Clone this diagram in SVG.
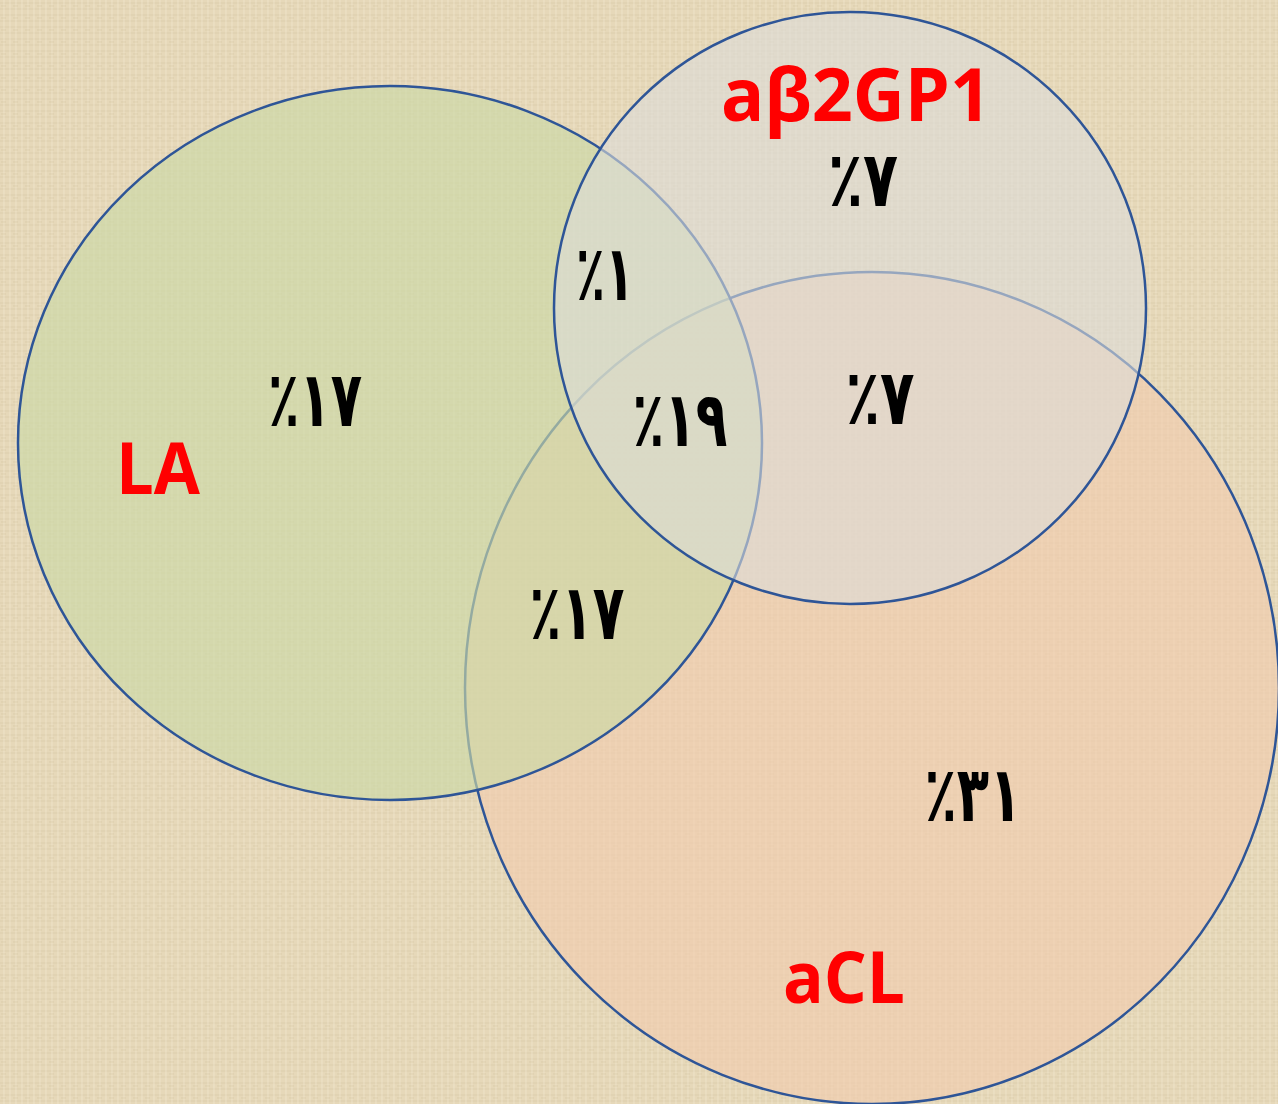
<svg xmlns="http://www.w3.org/2000/svg" width="1278" height="1104" viewBox="0 0 1278 1104">
  <defs>
    <!-- linen-like woven background -->
    <pattern id="linen" width="12" height="12" patternUnits="userSpaceOnUse">
      <rect width="12" height="12" fill="#e6d8b9"/>
      <path d="M0 3h12M0 9h12" stroke="#d3c4a2" stroke-width="1" opacity="0.55"/>
      <path d="M4 0v12M10 0v12" stroke="#f2e8d2" stroke-width="1" opacity="0.6"/>
      <path d="M1 6h5" stroke="#c9b994" stroke-width="1" opacity="0.35"/>
    </pattern>
    <style>
      .set { stroke: #2e5597; stroke-width: 2.5; }
      .label { font-family: "Open Sans", "Liberation Sans", sans-serif; font-weight: 700; fill: #ff0000; }
      .pct { font-family: "DejaVu Sans", "Noto Sans", sans-serif; font-weight: 700; fill: #000000; font-size: 77px; text-anchor: middle; direction: ltr; unicode-bidi: bidi-override; }
    </style>
  </defs>

  <rect width="1278" height="1104" fill="url(#linen)"/>

  <!-- sets, drawn bottom to top -->
  <g id="set-aCL">
    <ellipse class="set" cx="872" cy="688" rx="407" ry="416" fill="#f2cbad" fill-opacity="0.6"/>
  </g>
  <g id="set-LA">
    <ellipse class="set" cx="390" cy="443" rx="372" ry="357" fill="#cbd9a6" fill-opacity="0.65"/>
  </g>
  <g id="set-ab2GP1">
    <ellipse class="set" cx="850" cy="308" rx="296" ry="296" fill="#dcdcd8" fill-opacity="0.6"/>
  </g>

  <g id="connectors"></g>

  <!-- set names -->
  <g id="names">
    <text class="label" x="856" y="121" font-size="74" text-anchor="middle" textLength="270" lengthAdjust="spacingAndGlyphs">aβ2GP1</text>
    <text class="label" x="158" y="494" font-size="72" text-anchor="middle" textLength="84" lengthAdjust="spacingAndGlyphs">LA</text>
    <text class="label" x="844" y="1003" font-size="72" text-anchor="middle" textLength="122" lengthAdjust="spacingAndGlyphs">aCL</text>
  </g>

  <!-- region percentages -->
  <g id="values">
    <text class="pct" x="315" y="426" textLength="94" lengthAdjust="spacingAndGlyphs">٪١٧</text>
    <text class="pct" x="863" y="206" textLength="70" lengthAdjust="spacingAndGlyphs">٪٧</text>
    <text class="pct" x="605" y="300" textLength="58" lengthAdjust="spacingAndGlyphs">٪١</text>
    <text class="pct" x="680" y="446" textLength="95" lengthAdjust="spacingAndGlyphs">٪١٩</text>
    <text class="pct" x="880" y="424" textLength="69" lengthAdjust="spacingAndGlyphs">٪٧</text>
    <text class="pct" x="577" y="639" textLength="95" lengthAdjust="spacingAndGlyphs">٪١٧</text>
    <text class="pct" x="973" y="821" textLength="97" lengthAdjust="spacingAndGlyphs">٪٣١</text>
  </g>
</svg>
